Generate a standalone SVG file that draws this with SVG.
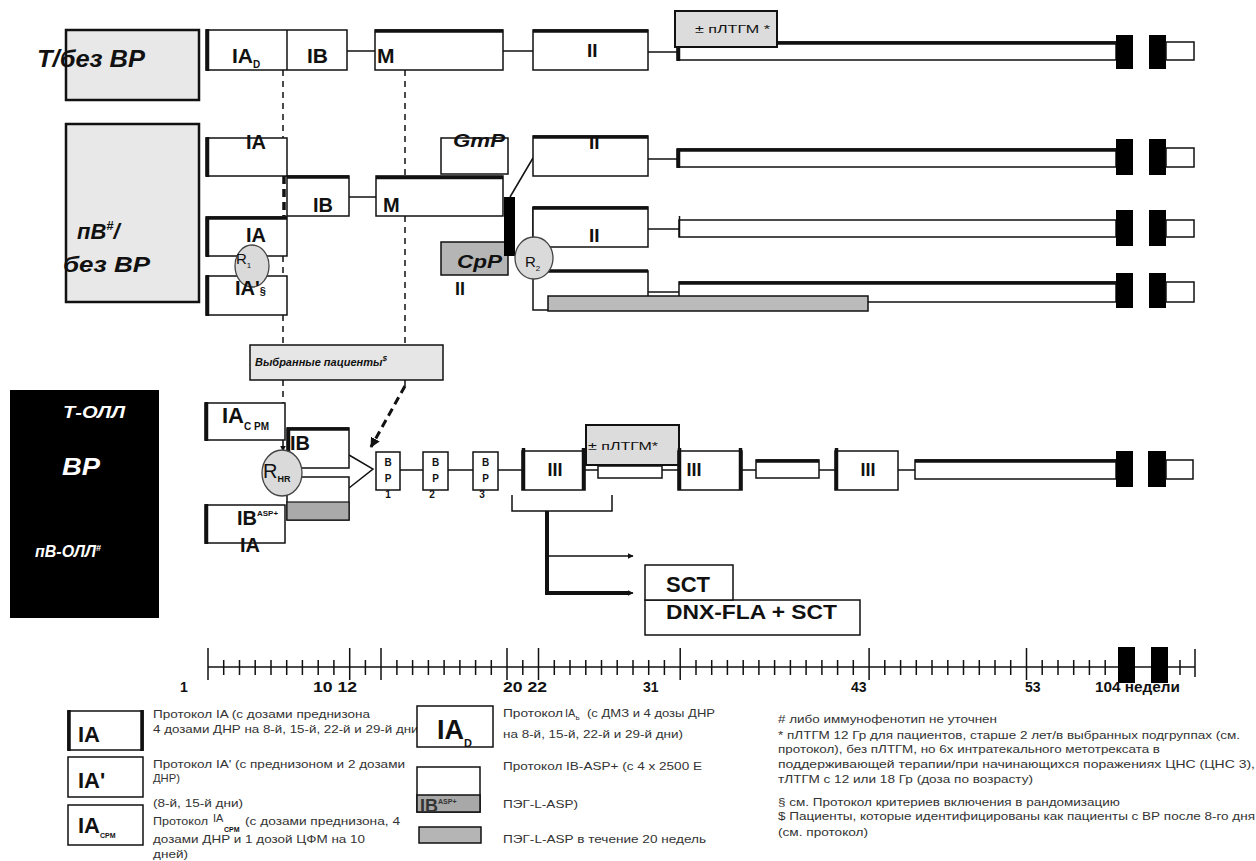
<svg xmlns="http://www.w3.org/2000/svg" width="1256" height="861" viewBox="0 0 1256 861">
<style>
.b{fill:#fff;stroke:#111;stroke-width:1.5}
.g1{fill:#e8e8e8;stroke:#111;stroke-width:2.5}
.g2{fill:#dcdcdc;stroke:#111;stroke-width:2}
.g3{fill:#b5b5b5;stroke:#111;stroke-width:1.5}
.k{fill:#000}
.t{stroke:#111;stroke-width:3.5;fill:none}
.l{stroke:#111;stroke-width:1.5;fill:none}
.d{stroke:#111;stroke-width:1.5;stroke-dasharray:6 5;fill:none}
.r{fill:#dadada;stroke:#444;stroke-width:1.3}
.f{font-family:"Liberation Sans",Arial,sans-serif;font-weight:bold;fill:#111}
.i{font-style:italic}
.w{fill:#fff}
.n{font-family:"Liberation Sans",Arial,sans-serif;font-size:11px;fill:#333}
.ax{font-family:"Liberation Sans",Arial,sans-serif;font-weight:bold;font-size:14px;fill:#111}
</style>
<defs>
<marker id="ah" viewBox="0 0 10 10" refX="9" refY="5" markerWidth="6" markerHeight="6" orient="auto" markerUnits="userSpaceOnUse"><path d="M0,0 L10,5 L0,10 z" fill="#111"/></marker>
<marker id="ah2" viewBox="0 0 10 10" refX="9" refY="5" markerWidth="10" markerHeight="10" orient="auto" markerUnits="userSpaceOnUse"><path d="M0,0 L10,5 L0,10 z" fill="#111"/></marker>
</defs>

<!-- ============ connectors ============ -->
<g id="connectors">
  <line class="l" x1="347" y1="51" x2="375" y2="51"/>
  <line class="l" x1="503" y1="51" x2="533" y2="51"/>
  <line class="l" x1="648" y1="52" x2="677" y2="52"/>
  <line class="l" x1="349" y1="197" x2="376" y2="197"/>
  <line class="l" x1="510" y1="197" x2="533" y2="158"/>
  <line class="l" x1="648" y1="159" x2="677" y2="159"/>
  <line class="l" x1="648" y1="229" x2="679" y2="229"/>
  <line class="l" x1="533" y1="207" x2="533" y2="238"/>
  <path class="l" d="M533,279 V310 H548"/>
  <line class="l" x1="648" y1="292" x2="679" y2="292"/>
  <path class="d" d="M283,70 V138 M283,256 V276 M283,315 V345 M283,380 V403"/>
  <path d="M284,176 V216" stroke="#111" stroke-width="3.5" stroke-dasharray="8 5" fill="none"/>
  <path class="d" d="M405,70 V176 M405,216 V345"/>
  <path class="l" d="M405,380 V386"/>
  <path d="M405,386 L371,447" stroke="#111" stroke-width="3" stroke-dasharray="8 5" fill="none" marker-end="url(#ah2)"/>
  <line class="l" x1="283" y1="440" x2="283" y2="451" marker-end="url(#ah)"/>
  <path class="l" d="M349,455 L373,469 L349,488"/>
  <line class="l" x1="400" y1="470" x2="423" y2="470"/>
  <line class="l" x1="448" y1="470" x2="473" y2="470"/>
  <line class="l" x1="498" y1="470" x2="522" y2="470"/>
  <line class="l" x1="585" y1="470" x2="598" y2="470"/>
  <line class="l" x1="662" y1="470" x2="678" y2="470"/>
  <line class="l" x1="742" y1="470" x2="756" y2="470"/>
  <line class="l" x1="819" y1="470" x2="835" y2="470"/>
  <line class="l" x1="898" y1="470" x2="915" y2="470"/>
  <path class="l" d="M512,495 V511 H612 V495"/>
  <path d="M547,511 V593 H628" stroke="#111" stroke-width="4" fill="none"/>
  <line x1="620" y1="593" x2="633" y2="593" stroke="#111" stroke-width="1.5" marker-end="url(#ah)"/>
  <line class="l" x1="549" y1="556" x2="633" y2="556" marker-end="url(#ah)"/>
</g>

<!-- ============ row 1 ============ -->
<g id="row1-label">
  <rect class="g1" x="66" y="30" width="133" height="70"/>
  <text class="f i" x="37" y="67" font-size="23" textLength="108" lengthAdjust="spacingAndGlyphs">Т/без ВР</text>
</g>
<g id="r1-IAD-IB">
  <rect class="b" x="206" y="30" width="141" height="40" stroke-width="2.2"/>
  <line class="l" x1="287" y1="30" x2="287" y2="70"/>
  <line class="t" x1="207.5" y1="29" x2="207.5" y2="71"/>
  <text class="f" x="232" y="63" font-size="21">IA<tspan font-size="10" dy="5">D</tspan></text>
  <text class="f" x="307" y="63" font-size="21">IB</text>
</g>
<g id="r1-M">
  <rect class="b" x="375" y="30" width="128" height="40"/>
  <line class="t" x1="375" y1="31" x2="503" y2="31"/>
  <text class="f" x="377" y="63" font-size="21">M</text>
</g>
<g id="r1-II">
  <rect class="b" x="533" y="30" width="115" height="40"/>
  <line class="t" x1="533" y1="31" x2="648" y2="31"/>
  <text class="f" x="587" y="57" font-size="19">II</text>
</g>
<g id="r1-maint">
  <rect class="b" x="677" y="42" width="439" height="18"/>
  <line class="t" x1="677" y1="43" x2="1116" y2="43"/>
  <line class="t" x1="678.5" y1="42" x2="678.5" y2="61"/>
  <rect class="k" x="1116" y="35" width="17" height="34"/>
  <rect class="k" x="1149" y="35" width="17" height="34"/>
  <rect class="b" x="1166" y="42" width="28" height="18"/>
</g>
<g id="r1-cranial">
  <rect class="g2" x="675" y="11" width="102" height="36"/>
  <text class="f" x="695" y="33" font-size="11" textLength="75" lengthAdjust="spacingAndGlyphs" style="font-weight:normal">± пЛТГМ *</text>
</g>

<!-- ============ row 2 ============ -->
<g id="row2-label">
  <rect class="g1" x="66" y="124" width="133" height="178"/>
  <text class="f i" x="77" y="239" font-size="22">пВ<tspan font-size="13" dy="-9">#</tspan><tspan dy="9">/</tspan></text>
  <text class="f i" x="63" y="272" font-size="22" textLength="87" lengthAdjust="spacingAndGlyphs">без ВР</text>
</g>
<g id="r2-IA1">
  <rect class="b" x="206" y="138" width="81" height="38"/>
  <line class="t" x1="207.5" y1="137" x2="207.5" y2="177"/>
  <text class="f" x="246" y="149" font-size="20">IA</text>
</g>
<g id="r2-IB">
  <rect class="b" x="287" y="176" width="62" height="40"/>
  <line class="t" x1="287" y1="177" x2="349" y2="177"/>
  <text class="f" x="313" y="212" font-size="20">IB</text>
</g>
<g id="r2-M">
  <rect class="b" x="376" y="176" width="127" height="40"/>
  <line class="t" x1="376" y1="177.5" x2="503" y2="177.5"/>
  <text class="f" x="383" y="212" font-size="20">M</text>
</g>
<g id="r2-IA2">
  <rect class="b" x="206" y="217" width="81" height="39"/>
  <line class="t" x1="206" y1="218" x2="287" y2="218"/>
  <line class="t" x1="207.5" y1="217" x2="207.5" y2="257"/>
  <text class="f" x="246" y="242" font-size="20">IA</text>
</g>
<g id="r2-IAprime">
  <rect class="b" x="206" y="276" width="81" height="39"/>
  <line class="t" x1="207.5" y1="275" x2="207.5" y2="316"/>
</g>
<g id="r2-R1">
  <ellipse class="r" cx="252" cy="266" rx="17" ry="21"/>
  <text class="f" x="236" y="264" font-size="15" style="font-weight:normal">R<tspan font-size="8" dy="4">1</tspan></text>
  <text class="f" x="235" y="295" font-size="20">IA'<tspan font-size="11">§</tspan></text>
</g>
<g id="r2-GmP">
  <rect class="b" x="441" y="138" width="67" height="36"/>
  <text class="f i" x="453" y="147" font-size="18" textLength="52" lengthAdjust="spacingAndGlyphs">GmP</text>
</g>
<g id="r2-CpP">
  <rect class="g3" x="441" y="242" width="67" height="33"/>
  <text class="f i" x="457" y="268" font-size="18" textLength="45" lengthAdjust="spacingAndGlyphs">CpP</text>
  <text class="f" x="455" y="295" font-size="18">II</text>
</g>
<g id="r2-bar">
  <rect class="k" x="504" y="197" width="11" height="59"/>
</g>
<g id="r2-II-a">
  <rect class="b" x="533" y="136" width="115" height="40"/>
  <line class="t" x1="533" y1="137" x2="648" y2="137"/>
  <text class="f" x="589" y="149" font-size="19">II</text>
</g>
<g id="r2-maint-a">
  <rect class="b" x="677" y="149" width="439" height="18"/>
  <line class="t" x1="677" y1="150" x2="1116" y2="150"/>
  <line class="t" x1="678.5" y1="149" x2="678.5" y2="168"/>
  <rect class="k" x="1116" y="139" width="17" height="36"/>
  <rect class="k" x="1149" y="139" width="17" height="36"/>
  <rect class="b" x="1166" y="148" width="28" height="19"/>
</g>
<g id="r2-II-b">
  <rect class="b" x="533" y="207" width="115" height="40"/>
  <line class="t" x1="533" y1="208" x2="648" y2="208"/>
  <text class="f" x="589" y="242" font-size="19">II</text>
</g>
<g id="r2-maint-b">
  <rect class="b" x="679" y="220" width="437" height="17"/>
  <line class="l" x1="679.5" y1="216" x2="679.5" y2="237" stroke-width="2"/>
  <rect class="k" x="1116" y="210" width="17" height="36"/>
  <rect class="k" x="1149" y="210" width="17" height="36"/>
  <rect class="b" x="1166" y="220" width="28" height="17"/>
</g>
<g id="r2-arm-c">
  <path class="l" d="M548,271 H648 V296"/>
  <line class="t" x1="548" y1="271" x2="648" y2="271"/>
</g>
<g id="r2-maint-c">
  <rect class="b" x="679" y="282" width="437" height="20"/>
  <line class="t" x1="679" y1="283" x2="1116" y2="283"/>
  <rect class="k" x="1116" y="273" width="17" height="35"/>
  <rect class="k" x="1149" y="273" width="17" height="35"/>
  <rect class="b" x="1166" y="282" width="28" height="20"/>
</g>
<g id="r2-peg">
  <rect x="548" y="296" width="320" height="15" fill="#bbb" stroke="#111" stroke-width="1.5"/>
</g>
<g id="r2-R2">
  <ellipse class="r" cx="534" cy="258" rx="19" ry="21"/>
  <text class="f" x="525" y="267" font-size="15" style="font-weight:normal">R<tspan font-size="8" dy="4">2</tspan></text>
</g>
<g id="selected">
  <rect x="250" y="345" width="193" height="35" fill="#e6e6e6" stroke="#111" stroke-width="1.5"/>
  <text class="f i" x="255" y="366" font-size="11">Выбранные пациенты<tspan font-size="8" dy="-5">$</tspan></text>
</g>

<!-- ============ row 3 ============ -->
<g id="row3-label">
  <rect class="k" x="10" y="390" width="149" height="228"/>
  <text class="f i" x="63" y="418" font-size="16" textLength="62" lengthAdjust="spacingAndGlyphs" style="fill:#fff">Т-ОЛЛ</text>
  <text class="f i" x="62" y="475" font-size="24" textLength="38" lengthAdjust="spacingAndGlyphs" style="fill:#fff">ВР</text>
  <text class="f i" x="35" y="557" font-size="16" style="fill:#fff">пВ-ОЛЛ<tspan font-size="9" dy="-6">#</tspan></text>
</g>
<g id="r3-IACPM">
  <rect class="b" x="205" y="403" width="80" height="37"/>
  <line class="t" x1="206.5" y1="402" x2="206.5" y2="441"/>
  <text class="f" x="222" y="423" font-size="22">IA<tspan font-size="10" dy="7">C PM</tspan></text>
</g>
<g id="r3-IB">
  <rect class="b" x="287" y="428" width="62" height="40"/>
  <line class="t" x1="287" y1="429" x2="349" y2="429"/>
  <line class="t" x1="288.5" y1="428" x2="288.5" y2="468"/>
  <text class="f" x="290" y="450" font-size="20">IB</text>
</g>
<g id="r3-IBASP">
  <rect class="b" x="287" y="477" width="62" height="43"/>
  <rect x="287" y="502" width="62" height="18" fill="#aaa" stroke="#111" stroke-width="1.2"/>
</g>
<g id="r3-IBASP-IA">
  <rect class="b" x="205" y="505" width="80" height="38"/>
  <line class="t" x1="206.5" y1="504" x2="206.5" y2="544"/>
  <text class="f" x="237" y="525" font-size="20">IB<tspan font-size="8" dy="-9">ASP+</tspan></text>
  <text class="f" x="240" y="552" font-size="20">IA</text>
</g>
<g id="r3-RHR">
  <ellipse class="r" cx="282" cy="473" rx="20" ry="23"/>
  <text class="f" x="263" y="478" font-size="20" style="font-weight:normal">R<tspan font-size="9" dy="4" style="font-weight:bold">HR</tspan></text>
</g>
<g id="r3-BP1">
  <rect class="b" x="376" y="452" width="24" height="38"/>
  <text class="f" x="388" y="466" font-size="10" text-anchor="middle">B</text>
  <text class="f" x="388" y="482" font-size="10" text-anchor="middle">P</text>
  <text class="f" x="388" y="498" font-size="10" text-anchor="middle">1</text>
</g>
<g id="r3-BP2">
  <rect class="b" x="423" y="452" width="25" height="38"/>
  <text class="f" x="435.5" y="466" font-size="10" text-anchor="middle">B</text>
  <text class="f" x="435.5" y="482" font-size="10" text-anchor="middle">P</text>
  <text class="f" x="432" y="498" font-size="10" text-anchor="middle">2</text>
</g>
<g id="r3-BP3">
  <rect class="b" x="473" y="452" width="25" height="38"/>
  <text class="f" x="485.5" y="466" font-size="10" text-anchor="middle">B</text>
  <text class="f" x="485.5" y="482" font-size="10" text-anchor="middle">P</text>
  <text class="f" x="482" y="498" font-size="10" text-anchor="middle">3</text>
</g>
<g id="r3-III-1">
  <rect class="b" x="522" y="451" width="63" height="39"/>
  <line class="t" x1="523.5" y1="448" x2="523.5" y2="490"/>
  <line class="t" x1="583.5" y1="448" x2="583.5" y2="490"/>
  <text class="f" x="555" y="476" font-size="18" text-anchor="middle">III</text>
</g>
<g id="r3-cranial">
  <rect class="b" x="598" y="466" width="64" height="12"/>
  <rect class="g2" x="586" y="425" width="93" height="40"/>
  <text class="f" x="588" y="450" font-size="11" textLength="70" lengthAdjust="spacingAndGlyphs" style="font-weight:normal">± пЛТГМ*</text>
</g>
<g id="r3-III-2">
  <rect class="b" x="678" y="451" width="64" height="39"/>
  <line class="t" x1="679.5" y1="448" x2="679.5" y2="490"/>
  <line class="t" x1="740.5" y1="448" x2="740.5" y2="490"/>
  <text class="f" x="694" y="476" font-size="18" text-anchor="middle">III</text>
</g>
<g id="r3-mid">
  <rect class="b" x="756" y="460" width="63" height="18"/>
  <line class="t" x1="756" y1="461" x2="819" y2="461"/>
</g>
<g id="r3-III-3">
  <rect class="b" x="835" y="451" width="63" height="39"/>
  <line class="t" x1="836.5" y1="448" x2="836.5" y2="490"/>
  <text class="f" x="868" y="476" font-size="18" text-anchor="middle">III</text>
</g>
<g id="r3-maint">
  <rect class="b" x="915" y="460" width="201" height="19"/>
  <line class="t" x1="915" y1="461" x2="1116" y2="461"/>
  <rect class="k" x="1116" y="451" width="17" height="36"/>
  <rect class="k" x="1148" y="451" width="18" height="36"/>
  <rect class="b" x="1166" y="460" width="27" height="19"/>
</g>
<g id="r3-SCT">
  <rect class="b" x="645" y="600" width="215" height="35"/>
  <rect class="b" x="645" y="565" width="88" height="35"/>
  <text class="f" x="666" y="592" font-size="22">SCT</text>
  <text class="f" x="666" y="619" font-size="21" textLength="171" lengthAdjust="spacingAndGlyphs">DNX-FLA + SCT</text>
</g>

<!-- ============ time axis ============ -->
<g id="axis">
  <line class="l" x1="208" y1="667" x2="1195" y2="667"/>
  <path class="l" d="M208,648 V680 M1195,649 V677 M1180,660 V675
  M223.7,660 V675 M239.5,660 V675 M255.2,660 V675 M271,660 V675 M286.7,660 V675 M302.4,660 V675 M318.2,660 V675 M333.9,660 V675
  M349.7,648 V680 M365.4,660 V675 M381,648 V680 M396.9,660 V675 M412.6,660 V675 M428.4,660 V675 M444.1,660 V675 M459.9,660 V675 M475.6,660 V675 M491.3,660 V675
  M507,648 V680 M522.8,660 V675 M538.5,648 V680 M554.3,660 V675 M570,660 V675 M585.8,660 V675 M601.5,660 V675 M617.2,660 V675 M633,660 V675 M648.7,660 V675 M664.4,660 V675
  M680.2,648 V680 M696,660 V675 M711.7,660 V675 M727.4,660 V675 M743.2,660 V675 M758.9,660 V675 M774.6,660 V675 M790.4,660 V675 M806.1,660 V675 M821.9,660 V675 M837.6,660 V675 M853.3,660 V675
  M869.1,648 V680 M884.8,660 V675 M900.6,660 V675 M916.3,660 V675 M932,660 V675 M947.8,660 V675 M963.5,660 V675 M979.3,660 V675 M995,660 V675 M1010.7,660 V675
  M1026.5,648 V680 M1042.2,660 V675 M1058,660 V675 M1073.7,660 V675 M1089.4,660 V675 M1105.2,660 V675"/>
  <rect class="k" x="1118" y="647" width="17" height="36"/>
  <rect class="k" x="1151" y="647" width="17" height="36"/>
  <text class="ax" x="180" y="692">1</text>
  <text class="ax" x="313" y="692" textLength="44" lengthAdjust="spacingAndGlyphs">10 12</text>
  <text class="ax" x="503" y="692" textLength="44" lengthAdjust="spacingAndGlyphs">20 22</text>
  <text class="ax" x="643" y="692">31</text>
  <text class="ax" x="851" y="692">43</text>
  <text class="ax" x="1025" y="692">53</text>
  <text class="ax" x="1095" y="692" textLength="85" lengthAdjust="spacingAndGlyphs">104 недели</text>
</g>

<!-- ============ legend ============ -->
<g id="legend-IA">
  <rect class="b" x="68" y="711" width="75" height="39" stroke-width="2.2"/>
  <line class="t" x1="69" y1="710" x2="69" y2="751"/>
  <line class="t" x1="142" y1="710" x2="142" y2="751"/>
  <text class="f" x="78" y="742" font-size="22">IA</text>
  <text class="n" x="153" y="718" textLength="217" lengthAdjust="spacingAndGlyphs">Протокол IA (с дозами преднизона</text>
  <text class="n" x="153" y="733" textLength="270" lengthAdjust="spacingAndGlyphs">4 дозами ДНР на 8-й, 15-й, 22-й и 29-й дни)</text>
</g>
<g id="legend-IAprime">
  <rect class="b" x="68" y="757" width="75" height="40" stroke-width="2.5"/>
  <text class="f" x="78" y="788" font-size="22">IA'</text>
  <text class="n" x="153" y="768" textLength="252" lengthAdjust="spacingAndGlyphs">Протокол IA' (с преднизоном и 2 дозами</text>
  <text class="n" x="153" y="782" textLength="27" lengthAdjust="spacingAndGlyphs">ДНР)</text>
  <text class="n" x="153" y="807" textLength="90" lengthAdjust="spacingAndGlyphs">(8-й, 15-й дни)</text>
</g>
<g id="legend-IACPM">
  <rect class="b" x="68" y="805" width="75" height="40" stroke-width="2.5"/>
  <text class="f" x="78" y="833" font-size="22">IA<tspan font-size="7" dy="5">CPM</tspan></text>
  <text class="n" x="153" y="825" textLength="55" lengthAdjust="spacingAndGlyphs">Протокол</text>
  <text class="n" x="213" y="822" font-size="8">IA</text>
  <text class="f" x="224" y="832" font-size="7">СРМ</text>
  <text class="n" x="245" y="825" textLength="155" lengthAdjust="spacingAndGlyphs">(с дозами преднизона, 4</text>
  <text class="n" x="153" y="843" textLength="212" lengthAdjust="spacingAndGlyphs">дозами ДНР и 1 дозой ЦФМ на 10</text>
  <text class="n" x="153" y="858" textLength="35" lengthAdjust="spacingAndGlyphs">дней)</text>
</g>
<g id="legend-IAD">
  <rect class="b" x="417" y="706" width="76" height="41" stroke-width="3"/>
  <text class="f" x="437" y="739" font-size="27">IA<tspan font-size="11" dy="8">D</tspan></text>
  <text class="n" x="503" y="717" textLength="60" lengthAdjust="spacingAndGlyphs">Протокол</text>
  <text class="n" x="565" y="717">IA<tspan font-size="8" dy="3">ь</tspan></text>
  <text class="n" x="587" y="717" textLength="128" lengthAdjust="spacingAndGlyphs">(с ДМЗ и 4 дозы ДНР</text>
  <text class="n" x="503" y="738" textLength="180" lengthAdjust="spacingAndGlyphs">на 8-й, 15-й, 22-й и 29-й дни)</text>
</g>
<g id="legend-IBASP">
  <rect class="b" x="417" y="767" width="63" height="45" stroke-width="2"/>
  <rect x="417" y="795" width="63" height="17" fill="#a8a8a8" stroke="#111" stroke-width="1.5"/>
  <text class="f" x="420" y="812" font-size="18" style="fill:#333">IB<tspan font-size="7" dy="-8">ASP+</tspan></text>
  <text class="n" x="503" y="770" textLength="199" lengthAdjust="spacingAndGlyphs">Протокол IB-ASP+ (с 4 x 2500 E</text>
  <text class="n" x="503" y="808" textLength="75" lengthAdjust="spacingAndGlyphs">ПЭГ-L-ASP)</text>
</g>
<g id="legend-PEG">
  <rect x="419" y="827" width="62" height="16" fill="#b5b5b5" stroke="#111" stroke-width="1.5"/>
  <text class="n" x="503" y="843" textLength="203" lengthAdjust="spacingAndGlyphs">ПЭГ-L-ASP в течение 20 недель</text>
</g>
<g id="notes">
  <text class="n" x="778" y="723" textLength="219" lengthAdjust="spacingAndGlyphs"># либо иммунофенотип не уточнен</text>
  <text class="n" x="778" y="739" textLength="462" lengthAdjust="spacingAndGlyphs">* пЛТГМ 12 Гр для пациентов, старше 2 лет/в выбранных подгруппах (см.</text>
  <text class="n" x="778" y="753" textLength="382" lengthAdjust="spacingAndGlyphs">протокол), без пЛТГМ, но 6х интратекального метотрексата в</text>
  <text class="n" x="778" y="768" textLength="477" lengthAdjust="spacingAndGlyphs">поддерживающей терапии/при начинающихся поражениях ЦНС (ЦНС 3),</text>
  <text class="n" x="778" y="783" textLength="255" lengthAdjust="spacingAndGlyphs">тЛТГМ с 12 или 18 Гр (доза по возрасту)</text>
  <text class="n" x="778" y="806" textLength="342" lengthAdjust="spacingAndGlyphs">§ см. Протокол критериев включения в рандомизацию</text>
  <text class="n" x="778" y="820" textLength="477" lengthAdjust="spacingAndGlyphs">$ Пациенты, которые идентифицированы как пациенты с ВР после 8-го дня</text>
  <text class="n" x="778" y="836" textLength="90" lengthAdjust="spacingAndGlyphs">(см. протокол)</text>
</g>
</svg>
